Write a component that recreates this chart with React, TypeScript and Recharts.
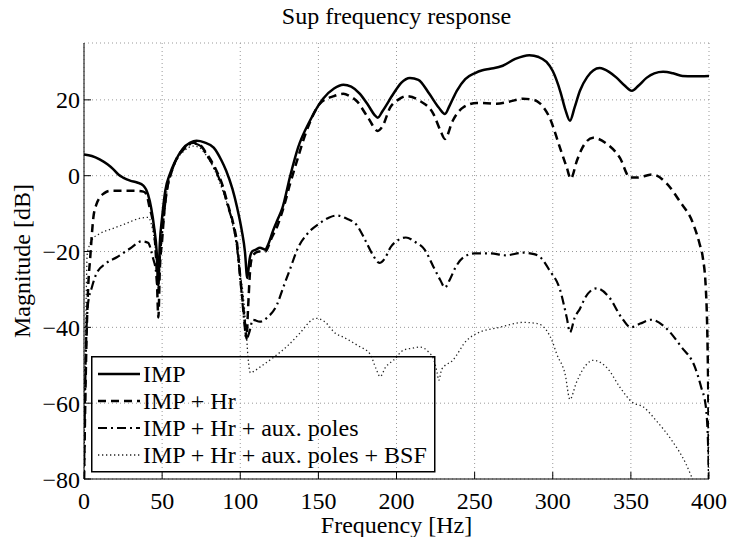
import { LineChart, Line, XAxis, YAxis, CartesianGrid } from "recharts";

// axis ticks
const freqTicks = [0, 50, 100, 150, 200, 250, 300, 350, 400];
const magTicks = [-80, -60, -40, -20, 0, 20];

// IMP
const impFreq = [0, 5, 10, 15, 18.5, 22, 25, 29.5, 34, 38, 41, 43, 45, 46.5, 47.5, 48.5, 50, 52, 55, 58, 63, 68, 72, 77, 83, 88, 91, 95, 98, 101, 103, 104.5, 106, 107.5, 110, 112.6, 116, 118, 121, 124, 127, 132, 137, 144.6, 153, 160, 166, 171, 176.6, 182, 186, 188, 191, 198, 203, 208.6, 214, 221, 227, 231, 234, 238.6, 244, 250, 255, 260, 268, 276, 285, 291, 296, 300, 305, 308, 311, 314, 317.4, 322, 330, 336, 341, 346, 350.7, 355, 360, 365, 370.6, 377, 383, 390, 400];
const impMag = [5.6, 5.2, 4.3, 3.0, 1.8, 0.3, -0.5, -1.3, -1.8, -2.6, -5.0, -8.5, -14, -20, -29, -18, -11, -4, 0.5, 3.5, 7, 8.7, 9.2, 8.8, 7.4, 4, 1.3, -3.5, -8.4, -14.5, -20, -27, -22, -20, -19.5, -19, -19.5, -18, -14.5, -11.5, -8.5, 0, 7.4, 14.5, 20.3, 23, 24, 23.5, 21.6, 18.5, 16, 15.3, 17, 21.6, 24.5, 25.8, 25.3, 21.6, 18, 16.3, 18.5, 22.4, 25.5, 27, 27.8, 28.2, 29, 30.8, 31.8, 31.3, 30, 27.6, 22, 17.5, 14.5, 18, 22.4, 26, 28.4, 27.4, 25.8, 23.8, 22.4, 23.8, 25.8, 27, 27.4, 27, 26.3, 26.2, 26.3];

// IMP + Hr
const hrFreq = [0, 0.8, 1.5, 2, 2.6, 4, 6, 8, 10, 13, 16.6, 25, 33, 38, 40, 42, 44, 45.4, 46.5, 47.6, 48.5, 50, 51.5, 53, 56, 59.5, 64, 70, 74, 78.5, 84, 89, 92, 95.5, 98, 100, 103, 104, 105, 106.5, 108, 112, 116, 120, 124, 128, 132, 136, 142.6, 151, 160, 166, 170, 174.5, 181.8, 188, 191, 196, 201, 206.6, 215, 223.6, 228, 231, 236, 242.6, 251.5, 264, 272, 281, 288, 292, 298, 304.6, 309, 311.5, 315.5, 319, 325.8, 334.6, 343, 349.4, 353.9, 364, 373, 381, 389.8, 394, 396, 398, 399, 399.6, 400];
const hrMag = [-80, -60, -45, -37, -30, -21.5, -11, -7.5, -5.8, -4.6, -4, -4, -4, -4.2, -5, -8.4, -12, -17, -25, -37.4, -25, -17, -9, -4, 1, 4.7, 7.3, 8.7, 8.2, 5.8, 2, -3, -7.5, -12.6, -18, -26.8, -39, -43, -35, -24, -21, -20, -20, -16.5, -13, -8, -2, 3.5, 12, 19, 21, 21.6, 21, 19.7, 15.3, 11.8, 13, 18, 20, 21, 19.7, 16.3, 12, 9.7, 14.5, 18, 19.2, 19, 19.5, 20.3, 20, 19, 15.3, 7.4, 2.1, -0.8, 4, 7.4, 10, 8.4, 4.7, -0.5, -0.5, 0.3, -2.1, -6.6, -12.6, -18, -21.5, -30, -43, -60, -80];

// IMP + Hr + aux. poles
const auxFreq = [0, 0.8, 1.5, 2.6, 5, 8, 14.5, 21, 29.5, 37, 41, 44, 46, 47.3, 48.5, 50, 51.5, 53, 56, 59.5, 64, 70, 74, 78.5, 84, 89, 92, 95.5, 98, 100, 102, 104, 106, 108, 112.6, 117, 123.5, 127.5, 132, 137, 142.6, 151, 157, 162, 168, 174.5, 180, 185, 189, 193, 196, 201, 206, 212, 218, 223.6, 228, 231, 234, 238, 243, 250, 260, 270, 281, 288, 292, 298, 304.6, 309, 311, 314, 317.5, 321, 328, 336, 344, 350, 356, 363, 372, 382, 391, 395, 398, 399.5, 400];
const auxMag = [-80, -55, -42, -33.7, -29.5, -25.8, -23, -21.5, -19.2, -17.3, -17.7, -21.5, -25, -30, -22, -15, -9, -4, 1, 4.5, 7, 8.5, 8, 5.5, 1.5, -3.5, -8, -13, -19, -27, -36, -43, -41, -38, -38.5, -37.5, -34, -29.5, -24.5, -19, -15.5, -12.5, -11, -10.5, -11.3, -13, -17, -21, -23, -21.5, -19, -17, -16.3, -17.5, -19.5, -24, -27.5, -29.5, -27.5, -24, -21.5, -20.5, -20.5, -21, -20.3, -20.7, -21.5, -25, -30, -37.5, -41.3, -37.5, -35, -32, -29.7, -32, -37.4, -40, -39, -38, -40, -45, -50.5, -55.8, -61, -72, -80];

// IMP + Hr + aux. poles + BSF
const bsfFreq = [0, 0.7, 1.5, 2, 3, 5, 10, 18, 27, 35, 41, 43, 45, 46.5, 47.5, 48.5, 50, 52, 55, 59, 64, 70, 73, 78, 83, 87, 91, 94, 97, 99.5, 101.5, 103.5, 105, 106.5, 109, 112.6, 121, 130, 138, 146, 148, 154, 161, 166, 176, 183, 187, 189.5, 193, 198, 204.5, 210, 215, 220.5, 224, 226, 227, 229, 236, 245, 251.5, 266, 281, 290, 296, 300, 302.5, 308, 311, 315, 319, 326, 335, 343, 350.7, 358, 366, 376, 385, 390, 395];
const bsfMag = [-80, -50, -30, -21, -19, -17, -15.3, -14, -12.6, -11.3, -11, -12.6, -17, -23, -30, -22, -15, -7, 0, 4, 6.5, 7.8, 7.6, 5.5, 2, -2, -6.6, -11, -17, -25, -30, -39, -48, -52, -51.5, -50.5, -48, -45, -41.6, -38, -37.6, -38.5, -41.6, -42.6, -45, -47, -51, -53, -50.5, -48.7, -46, -45.5, -45.2, -46.5, -48.7, -52, -54, -51, -48.7, -43.4, -41.6, -40, -38.7, -39, -40.8, -44, -47, -52.5, -59, -54.7, -51.3, -48.7, -50.8, -55.8, -59.7, -61, -64.5, -69.7, -75.8, -80.5, -85];

const zip = (fs: number[], ms: number[]) => fs.map((f, i) => ({ f, m: ms[i] }));

const serif = "Liberation Serif, Times New Roman, serif";
const fs = 24;

const legendItems = [
    { label: "IMP", dash: undefined as string | undefined, width: 2.5, color: "#000" },
    { label: "IMP + Hr", dash: "8 5", width: 2.5, color: "#000" },
    { label: "IMP + Hr + aux. poles", dash: "9 4 2 4", width: 2.2, color: "#000" },
    { label: "IMP + Hr + aux. poles + BSF", dash: "1.3 2.7", width: 1.3, color: "#222" },
];

const fmtMag = (v: number) => (v < 0 ? "\u2212" + Math.abs(v) : String(v));

export default function App() {
    const tickStyle = { fontFamily: serif, fontSize: fs, fill: "#000" };
    const textBox = { position: "absolute" as const, fontFamily: serif, fontSize: fs, lineHeight: `${fs}px`, color: "#000" };
    return (
        <div style={{ position: "absolute", left: 0, top: 0, width: 730, height: 537, background: "#fff", fontFamily: serif }}>
            <LineChart width={730} height={537} margin={{ top: 43, right: 21, bottom: 0, left: 0 }} style={{ fontFamily: serif }}>
                <CartesianGrid stroke="#999" strokeDasharray="1 3" />
                <XAxis
                    type="number"
                    dataKey="f"
                    domain={[0, 400]}
                    ticks={freqTicks}
                    allowDataOverflow
                    height={58}
                    tickSize={-7}
                    tickMargin={20}
                    tick={tickStyle}
                    axisLine={{ stroke: "#000", strokeWidth: 1 }}
                    tickLine={{ stroke: "#000" }}
                />
                <YAxis
                    type="number"
                    domain={[-80, 35]}
                    ticks={magTicks}
                    allowDataOverflow
                    width={84}
                    tickSize={-7}
                    tickMargin={11}
                    tick={tickStyle}
                    tickFormatter={fmtMag}
                    axisLine={{ stroke: "#000", strokeWidth: 1 }}
                    tickLine={{ stroke: "#000" }}
                />
                <Line data={zip(bsfFreq, bsfMag)} dataKey="m" type="monotone" stroke="#222" strokeWidth={1.3} strokeDasharray="1.3 2.7" dot={false} activeDot={false} isAnimationActive={false} />
                <Line data={zip(auxFreq, auxMag)} dataKey="m" type="monotone" stroke="#000" strokeWidth={2.2} strokeDasharray="9 4 2 4" dot={false} activeDot={false} isAnimationActive={false} />
                <Line data={zip(hrFreq, hrMag)} dataKey="m" type="monotone" stroke="#000" strokeWidth={2.5} strokeDasharray="8 5" dot={false} activeDot={false} isAnimationActive={false} />
                <Line data={zip(impFreq, impMag)} dataKey="m" type="monotone" stroke="#000" strokeWidth={2.5} dot={false} activeDot={false} isAnimationActive={false} />
            </LineChart>

            {/* title and axis labels */}
            <div style={{ ...textBox, left: 84, width: 625, top: 4, textAlign: "center" }}>Sup frequency response</div>
            <div style={{ ...textBox, left: 84, width: 625, top: 513, textAlign: "center" }}>Frequency [Hz]</div>
            <div
                style={{
                    ...textBox,
                    left: 22,
                    top: 261,
                    transform: "translate(-50%, -50%) rotate(-90deg)",
                    whiteSpace: "nowrap",
                }}
            >
                Magnitude [dB]
            </div>

            {/* legend (no fill, like the original) */}
            <svg style={{ position: "absolute", left: 91, top: 356 }} width={345} height={117}>
                <rect x={0.75} y={0.75} width={343} height={115} fill="none" stroke="#000" strokeWidth={1.5} />
                {legendItems.map((it, i) => {
                    const cy = 18 + i * 27;
                    return (
                        <g key={it.label}>
                            <line x1={7} x2={49} y1={cy} y2={cy} stroke={it.color} strokeWidth={it.width} strokeDasharray={it.dash} />
                            <text x={52} y={cy + 8} fontFamily={serif} fontSize={fs} fill="#000">
                                {it.label}
                            </text>
                        </g>
                    );
                })}
            </svg>
        </div>
    );
}
